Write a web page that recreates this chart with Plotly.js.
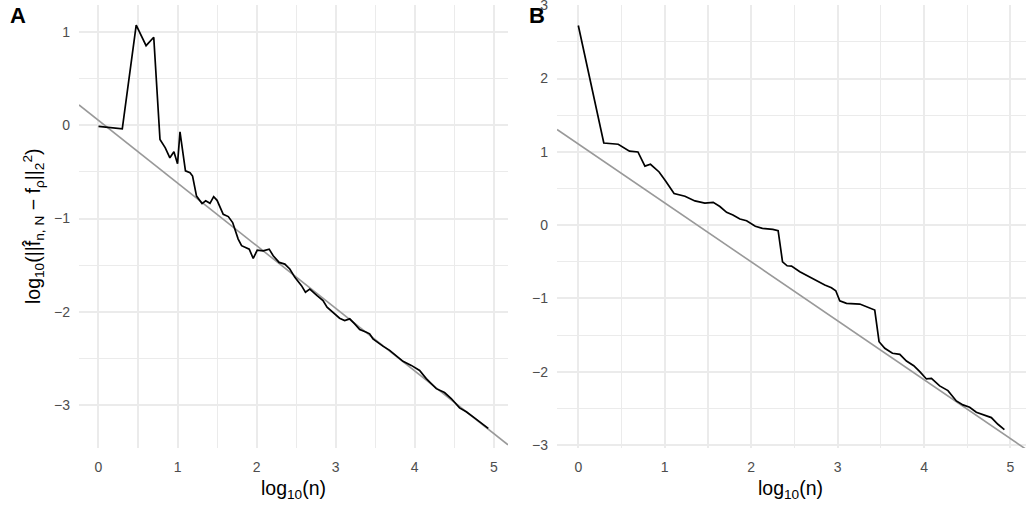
<!DOCTYPE html>
<html>
<head>
<meta charset="utf-8">
<script src="https://cdn.plot.ly/plotly-3.0.1.min.js"></script>
<style>html,body{margin:0;padding:0;background:#fff;}#chart{width:1026px;height:506px;}</style>
</head>
<body>
<div id="chart"></div>
<script>
// Panel A: log10(n) vs log10 error
const xA = [0, 0.301, 0.477, 0.602, 0.699, 0.778, 0.845, 0.903, 0.954, 1.0, 1.031, 1.1, 1.158, 1.19, 1.24, 1.31, 1.356, 1.41, 1.457, 1.5, 1.578, 1.642, 1.697, 1.767, 1.81, 1.874, 1.907, 1.957, 2.008, 2.083, 2.159, 2.21, 2.285, 2.357, 2.42, 2.484, 2.568, 2.618, 2.673, 2.765, 2.84, 2.891, 2.988, 3.05, 3.114, 3.178, 3.241, 3.304, 3.389, 3.43, 3.472, 3.535, 3.598, 3.683, 3.768, 3.852, 3.957, 4.062, 4.146, 4.273, 4.377, 4.462, 4.567, 4.652, 4.756, 4.84, 4.93];
const yA = [-0.013, -0.04, 1.07, 0.85, 0.94, -0.155, -0.243, -0.35, -0.286, -0.414, -0.073, -0.49, -0.51, -0.545, -0.76, -0.84, -0.81, -0.837, -0.765, -0.805, -0.954, -0.979, -1.043, -1.22, -1.29, -1.31, -1.327, -1.427, -1.338, -1.345, -1.327, -1.398, -1.469, -1.487, -1.54, -1.629, -1.718, -1.789, -1.754, -1.825, -1.878, -1.949, -2.02, -2.066, -2.091, -2.073, -2.127, -2.187, -2.216, -2.233, -2.287, -2.33, -2.365, -2.41, -2.47, -2.528, -2.571, -2.625, -2.713, -2.82, -2.862, -2.926, -3.026, -3.068, -3.132, -3.182, -3.245];
// Panel B
const xB = [0, 0.295, 0.462, 0.592, 0.69, 0.771, 0.835, 0.935, 1.012, 1.108, 1.234, 1.349, 1.464, 1.561, 1.638, 1.716, 1.789, 1.87, 1.947, 2.048, 2.13, 2.25, 2.312, 2.363, 2.416, 2.467, 2.563, 2.659, 2.756, 2.852, 2.929, 2.979, 3.025, 3.103, 3.257, 3.341, 3.43, 3.48, 3.546, 3.635, 3.72, 3.797, 3.881, 3.951, 4.028, 4.086, 4.181, 4.277, 4.374, 4.451, 4.528, 4.605, 4.682, 4.779, 4.855, 4.93];
const yB = [2.725, 1.121, 1.104, 1.01, 0.999, 0.806, 0.831, 0.726, 0.6, 0.432, 0.395, 0.331, 0.3, 0.311, 0.255, 0.175, 0.14, 0.084, 0.061, -0.014, -0.043, -0.057, -0.075, -0.5, -0.554, -0.559, -0.636, -0.695, -0.763, -0.817, -0.854, -0.895, -1.031, -1.067, -1.076, -1.113, -1.158, -1.59, -1.68, -1.748, -1.762, -1.853, -1.917, -1.998, -2.098, -2.089, -2.193, -2.257, -2.398, -2.452, -2.484, -2.552, -2.589, -2.625, -2.716, -2.79];
// Reference lines (intercept, slope)
const refA = [0.05, -0.67];
const refB = [1.108, -0.804];
const xTicks = [0, 1, 2, 3, 4, 5];
const yTicksA = [-3, -2, -1, 0, 1];
const yTicksB = [-3, -2, -1, 0, 1, 2, 3];

const W = 1026, H = 506;
const px = v => v / W, py = v => 1 - v / H;
const FONT = 'Liberation Sans, Arial, Helvetica, sans-serif';
const xRange = [-0.2465, 5.18];
const yRangeA = [-3.455, 1.285];
const yRangeB = [-3.04, 3.004];

function refTrace(r, xa, ya) {
  const xs = [xRange[0], xRange[1]];
  return {x: xs, y: xs.map(v => r[0] + r[1] * v), xaxis: xa, yaxis: ya, mode: 'lines',
          line: {color: '#999999', width: 1.6}, hoverinfo: 'skip'};
}
const traces = [
  refTrace(refA, 'x', 'y'),
  {x: xA, y: yA, xaxis: 'x', yaxis: 'y', mode: 'lines', line: {color: '#000000', width: 1.7}},
  refTrace(refB, 'x2', 'y2'),
  {x: xB, y: yB, xaxis: 'x2', yaxis: 'y2', mode: 'lines', line: {color: '#000000', width: 1.7}}
];

const GRID = '#EBEBEB';
function xax(domain) {
  return {domain: domain, range: xRange, tickvals: xTicks, ticktext: xTicks.map(String),
    showgrid: true, gridcolor: GRID, gridwidth: 2, zeroline: false, showline: false,
    ticks: '', ticklabelstandoff: 9, ticklabeloverflow: 'allow',
    tickfont: {family: FONT, size: 14, color: '#4D4D4D'},
    minor: {dtick: 0.5, tick0: 0, showgrid: true, gridcolor: GRID, gridwidth: 1.1}};
}
function yax(range, ticks, anchor) {
  return {domain: [py(448), py(5)], range: range, tickvals: ticks,
    ticktext: ticks.map(v => v < 0 ? '\u2212' + Math.abs(v) : String(v)),
    showgrid: true, gridcolor: GRID, gridwidth: 2, zeroline: false, showline: false,
    ticks: '', ticklabelstandoff: 8, ticklabeloverflow: 'allow',
    tickfont: {family: FONT, size: 14, color: '#4D4D4D'},
    anchor: anchor,
    minor: {dtick: 0.5, tick0: 0, showgrid: true, gridcolor: GRID, gridwidth: 1.1}};
}

const layout = {
  width: W, height: H, margin: {l: 0, r: 0, t: 0, b: 0},
  paper_bgcolor: '#ffffff', plot_bgcolor: '#ffffff', showlegend: false,
  font: {family: FONT},
  xaxis: Object.assign(xax([px(79), px(508)]), {anchor: 'y'}),
  yaxis: yax(yRangeA, yTicksA, 'x'),
  xaxis2: Object.assign(xax([px(557), 1]), {anchor: 'y2'}),
  yaxis2: yax(yRangeB, yTicksB, 'x2'),
  annotations: [
    {text: '<b>A</b>', xref: 'paper', yref: 'paper', x: px(18), y: py(15), showarrow: false,
     font: {family: FONT, size: 22, color: '#000'}, xanchor: 'center', yanchor: 'middle'},
    {text: '<b>B</b>', xref: 'paper', yref: 'paper', x: px(537), y: py(15), showarrow: false,
     font: {family: FONT, size: 22, color: '#000'}, xanchor: 'center', yanchor: 'middle'},
    {text: 'log<sub>10</sub>(n)', xref: 'paper', yref: 'paper', x: px(293.5), y: py(489), showarrow: false,
     font: {family: FONT, size: 19.5, color: '#000'}, xanchor: 'center', yanchor: 'middle'},
    {text: 'log<sub>10</sub>(n)', xref: 'paper', yref: 'paper', x: px(790), y: py(489), showarrow: false,
     font: {family: FONT, size: 19.5, color: '#000'}, xanchor: 'center', yanchor: 'middle'},
    {text: 'log<sub>10</sub>(||f\u0302<sub>n, N</sub> \u2212 f<sub>\u03C1</sub>||<sub>2</sub><sup>2</sup>)', xref: 'paper', yref: 'paper',
     x: px(33), y: py(226), showarrow: false, textangle: -90,
     font: {family: FONT, size: 19.5, color: '#000'}, xanchor: 'center', yanchor: 'middle'}
  ]
};
Plotly.newPlot('chart', traces, layout, {staticPlot: true, displayModeBar: false});
</script>
</body>
</html>
